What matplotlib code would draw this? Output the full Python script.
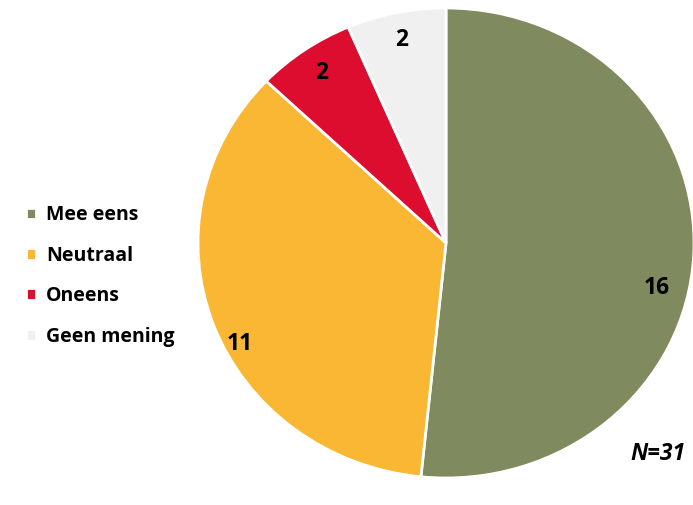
import matplotlib.pyplot as plt

labels = ["Mee eens", "Neutraal", "Oneens", "Geen mening"]
counts = [16, 11, 2, 2]
colors = ["#7F8A5E", "#F9B733", "#DC0D2E", "#F0F0F0"]
n_total = 31

plt.rcParams['font.family'] = ['Open Sans', 'DejaVu Sans']

fig = plt.figure(figsize=(6.93, 5.05), dpi=100)
# pie occupies an ellipse: x 198..694 px, y 8..478 px
ax = fig.add_axes([198 / 693, 27 / 505, 496 / 693, 470 / 505])

wedges, texts, autotexts = ax.pie(
    counts, colors=colors, startangle=90, counterclock=False,
    autopct=lambda p: f"{round(p * sum(counts) / 100):d}",
    pctdistance=0.88, wedgeprops=dict(edgecolor="white", linewidth=2),
    textprops=dict(fontsize=16.5, fontweight="bold", color="black"),
)
ax.set_aspect("auto")
ax.set_xlim(-1, 1)
ax.set_ylim(-1, 1)

# Excel "best fit" placement for the two large slices
autotexts[0].set_position((0.85, -0.19))
autotexts[1].set_position((-0.83, -0.43))

ax.text(0.855, -0.90, f"N={n_total}", fontsize=16.5, fontweight="bold",
        fontstyle="italic", ha="center", va="center")

fig.legend(wedges, labels, loc="center left", bbox_to_anchor=(8 / 693, 1 - 276 / 505),
           frameon=False, prop=dict(weight="bold", size=14),
           handlelength=0.55, handleheight=0.55, handletextpad=0.5,
           labelspacing=1.05)

fig.savefig("out.png", dpi=100)
